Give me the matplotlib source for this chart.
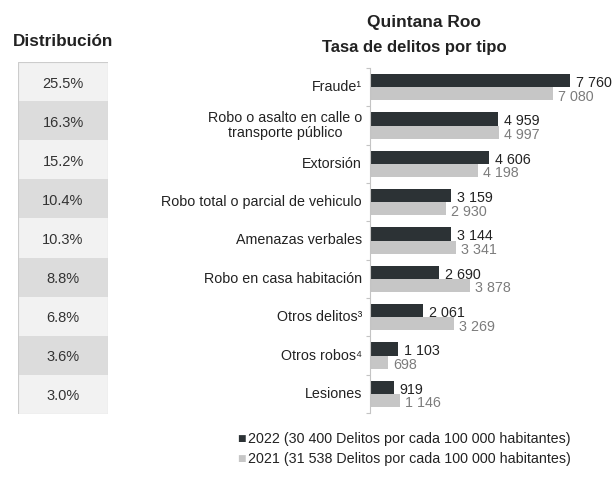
import matplotlib
matplotlib.use("Agg")
import matplotlib.pyplot as plt
from matplotlib.patches import Rectangle

plt.rcParams['font.family'] = ['Liberation Sans', 'DejaVu Sans']

categories = ["Fraude¹", "Robo o asalto en calle o\ntransporte público", "Extorsión",
              "Robo total o parcial de vehiculo", "Amenazas verbales",
              "Robo en casa habitación", "Otros delitos³", "Otros robos⁴", "Lesiones"]
values_2022 = [7760, 4959, 4606, 3159, 3144, 2690, 2061, 1103, 919]
values_2021 = [7080, 4997, 4198, 2930, 3341, 3878, 3269, 698, 1146]
distribution = ["25.5%", "16.3%", "15.2%", "10.4%", "10.3%", "8.8%", "6.8%", "3.6%", "3.0%"]
legend_labels = ["2022 (30 400 Delitos por cada 100 000 habitantes)",
                 "2021 (31 538 Delitos por cada 100 000 habitantes)"]

W, H = 612, 478
fig = plt.figure(figsize=(W / 100, H / 100), dpi=100)

def fx(px):
    return px / W

def fy(py):
    return 1 - py / H

c22 = "#2c3235"
c21 = "#c6c6c6"

# Bar axes: 0..8920 over 370..600 px
ax = fig.add_axes([fx(370), fy(413), fx(600) - fx(370), fy(68) - fy(413)])
n = len(categories)
ypos = list(range(n))
bh = 0.34
ax.barh([y - bh / 2 for y in ypos], values_2022, height=bh, color=c22)
ax.barh([y + bh / 2 for y in ypos], values_2021, height=bh, color=c21)
ax.set_xlim(0, 8920)
ax.set_ylim(n - 0.5, -0.5)
for s in ["top", "right", "bottom"]:
    ax.spines[s].set_visible(False)
ax.spines["left"].set_color("#c4c4c4")
ax.spines["left"].set_linewidth(0.8)
ax.set_xticks([])
ax.set_yticks([y + 0.5 for y in range(-1, n)])
ax.set_yticklabels([])
ax.tick_params(axis="y", length=3, color="#c4c4c4", width=0.8)

def fmt(v):
    return f"{v:,}".replace(",", " ")

for y, v22, v21, cat in zip(ypos, values_2022, values_2021, categories):
    ax.text(v22 + 230, y - bh / 2 + 0.06, fmt(v22), va="center", ha="left",
            fontsize=10.3, color="#222222")
    ax.text(v21 + 200, y + bh / 2 + 0.08, fmt(v21), va="center", ha="left",
            fontsize=10.3, color="#7c7c7c")
    ax.text(-310, y, cat, va="center", ha="right", multialignment="center",
            fontsize=10.3, color="#222222", linespacing=1.05)

# Titles
fig.text(fx(424), fy(22), "Quintana Roo", ha="center", va="center",
         fontsize=12.5, fontweight="bold", color="#222222")
fig.text(fx(414), fy(47), "Tasa de delitos por tipo", ha="center", va="center",
         fontsize=12, fontweight="bold", color="#222222")
fig.text(fx(63), fy(42), "Distribución", ha="center", va="center",
         fontsize=12.3, fontweight="bold", color="#222222")

# Distribution table
tax = fig.add_axes([fx(18), fy(414), fx(108) - fx(18), fy(62) - fy(414)])
tax.set_xlim(0, 1)
tax.set_ylim(n, 0)
tax.axis("off")
for i, d in enumerate(distribution):
    color = "#f2f2f2" if i % 2 == 0 else "#dcdcdc"
    tax.add_patch(Rectangle((0, i), 1, 1, facecolor=color, edgecolor="none"))
    tax.text(0.5, i + 0.55, d, ha="center", va="center", fontsize=10.5, color="#333333")
tax.add_patch(Rectangle((0, 0), 1, n, facecolor="none", edgecolor="#cccccc", linewidth=0.8))

# Legend
for py, col, lab in [(439, c22, legend_labels[0]), (459, c21, legend_labels[1])]:
    fig.text(fx(237), fy(py), "■", ha="left", va="center", fontsize=6.5, color=col,
             family=["DejaVu Sans"])
    fig.text(fx(248), fy(py), lab, ha="left", va="center", fontsize=10.3, color="#222222")

fig.savefig("out.png", dpi=100, facecolor="white")
